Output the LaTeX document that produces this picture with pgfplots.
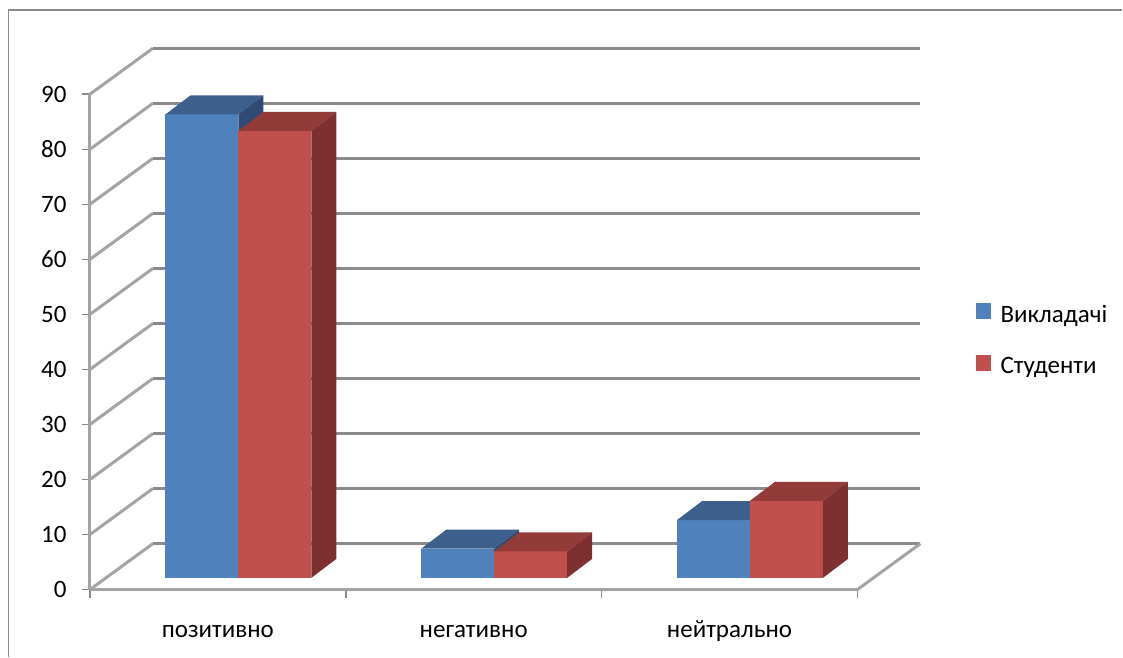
\documentclass[border=0pt]{standalone}
\usepackage{fontspec}
\setmainfont{Carlito}
\usepackage{pgfplots}
\usepackage{pgfplotstable}
\pgfplotsset{compat=1.18}

\definecolor{blueF}{HTML}{4F81BD}
\definecolor{blueT}{HTML}{3C5F8C}
\definecolor{blueS}{HTML}{2F4B73}
\definecolor{redF}{HTML}{C0504D}
\definecolor{redT}{HTML}{933B39}
\definecolor{redS}{HTML}{7D302F}
\definecolor{gridC}{HTML}{8A8A8A}
\definecolor{wallC}{HTML}{A3A3A3}
\definecolor{frameC}{HTML}{8A8A8A}

% share of respondents, %
\pgfplotstableread{
cat teach stud
0   84.2  81.2
1   5.3   4.8
2   10.5  14.0
}\answers

% oblique projection: depth of the back wall and of the bars
\def\Dx{0.2461}\def\Dy{8.351}
\def\fx{0.0801}\def\fy{2.124}
\def\bx{0.1777}\def\by{5.574}
\def\bw{0.2852}

% one 3-D column: #1 left edge, #2 value, #3 front, #4 top, #5 side
\newcommand\cuboid[5]{%
  \pgfmathsetmacro\xa{#1+\fx}\pgfmathsetmacro\xb{#1+\bw+\fx}%
  \pgfmathsetmacro\xc{#1+\bx}\pgfmathsetmacro\xd{#1+\bw+\bx}%
  \pgfmathsetmacro\ya{\fy}\pgfmathsetmacro\yb{#2+\fy}%
  \pgfmathsetmacro\yc{\by}\pgfmathsetmacro\yd{#2+\by}%
  \edef\next{%
    \noexpand\addplot[fill=#3,draw=none,forget plot] coordinates {(\xa,\ya) (\xb,\ya) (\xb,\yb) (\xa,\yb)};
    \noexpand\addplot[fill=#4,draw=none,forget plot] coordinates {(\xa,\yb) (\xb,\yb) (\xd,\yd) (\xc,\yd)};
    \noexpand\addplot[fill=#5,draw=none,forget plot] coordinates {(\xb,\ya) (\xd,\yc) (\xd,\yd) (\xb,\yb)};
  }\next}
\newcommand\column[4]{% #1 row, #2 column name, #3 left edge, #4 colour prefix
  \pgfplotstablegetelem{#1}{#2}\of\answers
  \cuboid{#3}{\pgfplotsretval}{#4F}{#4T}{#4S}}

\begin{document}
\begin{tikzpicture}[font=\fontsize{12.5pt}{15pt}\selectfont]
\begin{axis}[
  scale only axis, width=384pt, height=247.86pt,
  xmin=0, xmax=3, ymin=0, ymax=90,
  clip=false, no markers,
  axis x line*=bottom, axis y line*=left,
  axis line style={draw=wallC, line width=1.5pt},
  tick align=outside, major tick length=4pt,
  tick style={draw=frameC, line width=0.75pt},
  ytick={0,10,...,90},
  xtick={0,1,2,3}, xticklabels={},
  extra x ticks={0.5,1.5,2.5},
  extra x tick labels={позитивно,негативно,нейтрально},
  extra x tick style={major tick length=0pt},
  /pgf/number format/assume math mode=true,
  ticklabel style={font=\fontsize{12.5pt}{15pt}\selectfont},
  yticklabel style={anchor=east, inner sep=0pt, xshift=-7.5pt},
  xticklabel style={anchor=base, inner sep=0pt, yshift=-24pt},
  legend style={draw=none, fill=none, inner sep=0pt,
    at={(axis cs:3.461,52.11)}, anchor=north west,
    font=\fontsize{12.5pt}{15pt}\selectfont,
    row sep=14pt, column sep=5pt,
    nodes={inner sep=0pt, text height=8pt, text depth=2.5pt}},
  legend cell align=left,
  legend image code/.code={\fill[#1] (0pt,-1pt) rectangle (7pt,6.5pt);},
]
  % bounding box and frame
  \path (axis cs:-0.3516,-12.164) rectangle (axis cs:4.0352,107.12);
  \draw[frameC, line width=0.75pt] (axis cs:-0.3184,-12.164) -- (axis cs:-0.3184,105.30) -- (axis cs:4.0352,105.30);
  % side wall, back wall and floor
  \pgfplotsinvokeforeach{0,10,...,90}{%
    \draw[wallC, line width=1.5pt] (axis cs:0,#1) -- (axis cs:\Dx,#1+\Dy);
    \draw[gridC, line width=1.5pt] (axis cs:\Dx,#1+\Dy) -- (axis cs:3+\Dx,#1+\Dy);
  }
  \draw[wallC, line width=1.5pt] (axis cs:3,0) -- (axis cs:3+\Dx,\Dy);

  \column{0}{teach}{0.2148}{blue}
  \column{0}{stud}{0.5}{red}
  \column{1}{teach}{1.2148}{blue}
  \column{1}{stud}{1.5}{red}
  \column{2}{teach}{2.2148}{blue}
  \column{2}{stud}{2.5}{red}

  \addlegendimage{blueF}\addlegendentry{Викладачі}
  \addlegendimage{redF}\addlegendentry{Студенти}
\end{axis}
\end{tikzpicture}
\end{document}
